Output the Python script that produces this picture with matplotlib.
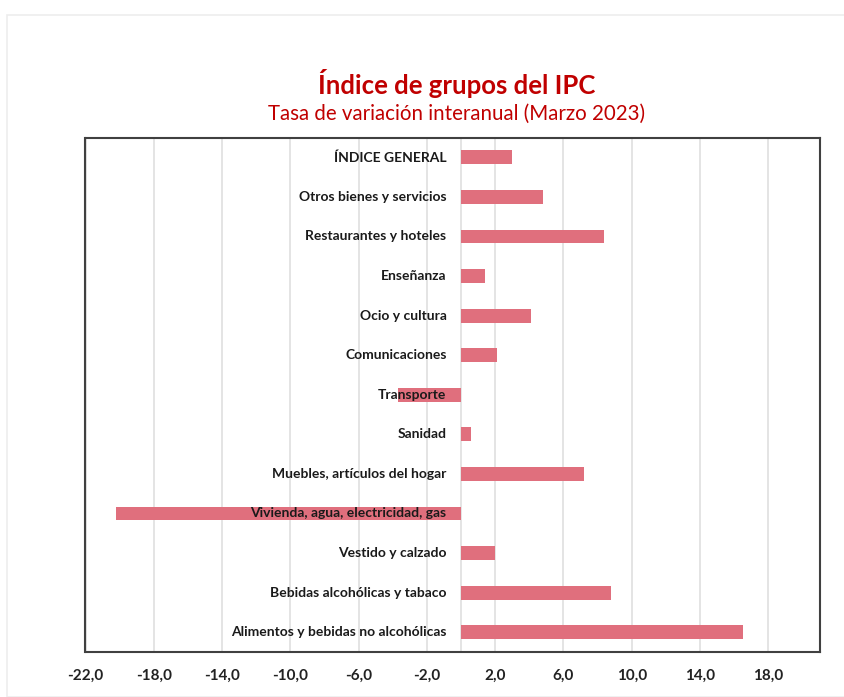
import matplotlib
matplotlib.use("Agg")
import matplotlib.pyplot as plt
from matplotlib.patches import Rectangle

categories = [
    "ÍNDICE GENERAL",
    "Otros bienes y servicios",
    "Restaurantes y hoteles",
    "Enseñanza",
    "Ocio y cultura",
    "Comunicaciones",
    "Transporte",
    "Sanidad",
    "Muebles, artículos del hogar",
    "Vivienda, agua, electricidad, gas",
    "Vestido y calzado",
    "Bebidas alcohólicas y tabaco",
    "Alimentos y bebidas no alcohólicas",
]
values = [3.0, 4.8, 8.4, 1.4, 4.1, 2.1, -3.7, 0.6, 7.2, -20.2, 2.0, 8.8, 16.5]
xticks = [-22, -18, -14, -10, -6, -2, 2, 6, 10, 14, 18]
xtick_labels = ["-22,0", "-18,0", "-14,0", "-10,0", "-6,0", "-2,0", "2,0", "6,0", "10,0", "14,0", "18,0"]

title = "Índice de grupos del IPC"
subtitle = "Tasa de variación interanual (Marzo 2023)"

plt.rcParams['font.family'] = ['Lato', 'DejaVu Sans']

W, H = 845, 697
fig = plt.figure(figsize=(W / 100, H / 100), dpi=100)
fig.patch.set_facecolor("white")

# faint card border
fig.add_artist(Rectangle((7 / W, 0), 1.0, 1 - 15 / H, transform=fig.transFigure,
                         fill=False, edgecolor="#ededed", linewidth=1.2))

ax_l, ax_r, ax_t, ax_b = 85.5, 819.5, 137.5, 652
ax = fig.add_axes([ax_l / W, 1 - ax_b / H, (ax_r - ax_l) / W, (ax_b - ax_t) / H])

n = len(categories)
ypos = list(range(n))
bar_color = "#e06f7d"

ax.barh(ypos, values, height=0.35, color=bar_color, zorder=2)
ax.set_xlim(-22, 21)
ax.set_ylim(n - 0.5, -0.5)

for x in xticks + [0]:
    ax.axvline(x, color="#e2e2e2", linewidth=1.3, zorder=1)

ax.set_yticks([])
ax.set_xticks(xticks)
ax.set_xticklabels(xtick_labels, fontsize=11, fontweight="bold", color="#222222")
ax.tick_params(axis="x", length=0, pad=12)

for s in ax.spines.values():
    s.set_color("#404040")
    s.set_linewidth(1.5)

for y, lab in zip(ypos, categories):
    ax.text(-0.85, y, lab, ha="right", va="center", fontsize=10, fontweight="bold",
            color="#1a1a1a", zorder=3)

fig.text(457 / W, 1 - 83.5 / H, title, ha="center", va="center", fontsize=18.5,
         fontweight="bold", color="#c00000")
fig.text(457 / W, 1 - 114 / H, subtitle, ha="center", va="center", fontsize=14.8,
         color="#c00000")

fig.savefig("out.png", dpi=100)
